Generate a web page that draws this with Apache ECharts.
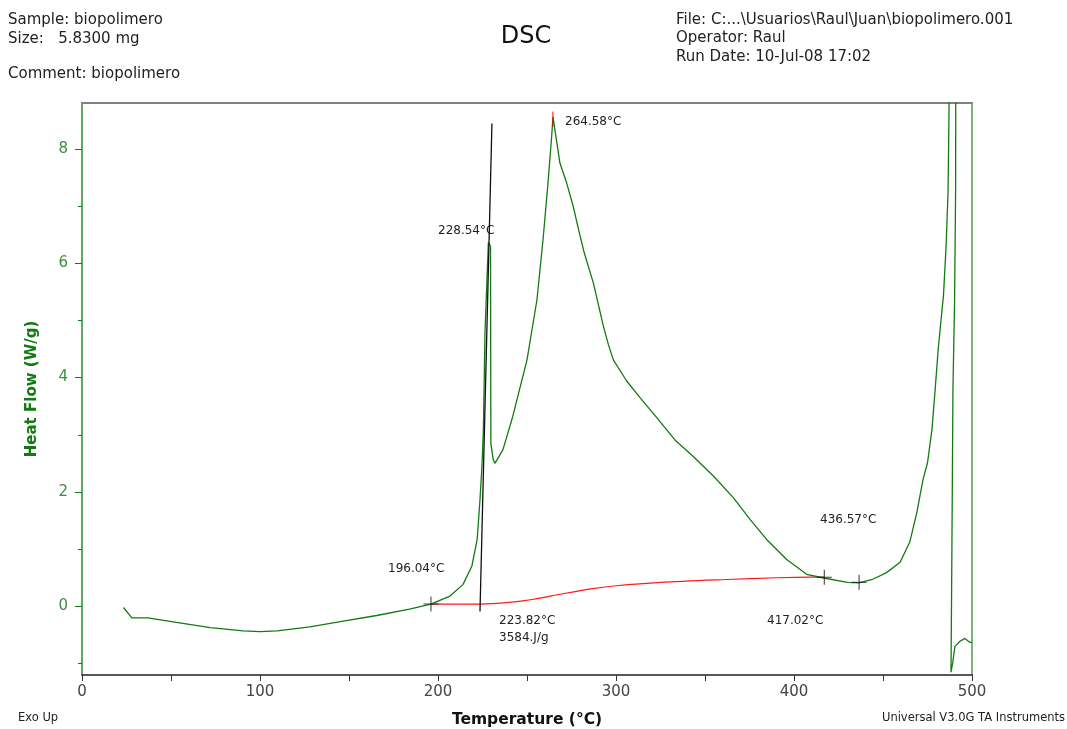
<!DOCTYPE html>
<html>
<head>
<meta charset="utf-8">
<title>DSC biopolimero</title>
<script src="https://cdn.jsdelivr.net/npm/echarts@6/dist/echarts.min.js"></script>
<style>
  html, body { margin: 0; padding: 0; background: #fff; }
  #chart { width: 1067px; height: 729px; }
</style>
</head>
<body>
<div id="chart"></div>
<script>
// curva DSC: temperatura (°C) y flujo de calor (W/g)
const temperature = [23.3, 28, 37, 53, 72, 90.6, 100, 109.6, 128, 146.8, 165.6, 184, 196.04, 206.7, 214, 219, 222,
  223.6, 224.7, 225.5, 226.4, 228.3, 229.5, 229.7, 231, 232, 236.5, 242, 250, 255.6, 259, 261.8, 264, 264.58,
  268.5, 272.3, 276, 279.4, 282, 287.3, 292.9, 295.7, 298.5, 306, 313.5, 322.9, 333.1, 343.4, 354.7, 365.9,
  375.3, 384.6, 395.9, 407.1, 416, 430,
  436.57, 444, 452, 459.6, 465, 469, 472.5, 475, 477.5, 479, 481, 484, 485.4, 486.5, 487, 487.4, 490.9,
  490.8, 490.2, 489.3, 488.7, 488.2, 489.2, 490.4, 493.3, 496, 498.9, 500];
const heatFlow = [-0.02, -0.2, -0.2, -0.28, -0.37, -0.43, -0.44, -0.43, -0.36, -0.26, -0.16, -0.05, 0.04, 0.18, 0.38, 0.70, 1.17,
  1.87, 2.45, 3.09, 4.79, 6.36, 6.3, 2.85, 2.57, 2.50, 2.74, 3.32, 4.31, 5.36, 6.41, 7.4, 8.28, 8.56,
  7.75, 7.4, 6.99, 6.53, 6.2, 5.65, 4.90, 4.58, 4.31, 3.94, 3.65, 3.30, 2.91, 2.62, 2.28, 1.90,
  1.52, 1.17, 0.82, 0.56, 0.50, 0.42,
  0.41, 0.47, 0.59, 0.77, 1.12, 1.64, 2.22, 2.51, 3.09, 3.67, 4.49, 5.45, 6.27, 7.2, 8.37, 10, 10,
  7.3, 5.3, 3.8, 0.94, -1.15, -0.98, -0.70, -0.61, -0.56, -0.63, -0.63];

// línea base integrada (rojo)
const baseTemp = [196.04, 223.82, 240, 253, 270, 287, 300, 325, 362, 390, 409, 417.02];
const baseFlow = [0.04, 0.04, 0.07, 0.12, 0.22, 0.31, 0.36, 0.42, 0.47, 0.50, 0.51, 0.51];

// tangente del onset (negro)
const tangentTemp = [223.6, 230.3];
const tangentFlow = [-0.09, 8.44];

// marca del pico
const peakTemp = [264.58, 264.58];
const peakFlow = [8.38, 8.65];

// cruces de los límites de integración
const crossTemp = [196.04, 417.02, 436.57];
const crossFlow = [0.04, 0.51, 0.42];

const xLabels = [0, 100, 200, 300, 400, 500];
const yLabels = [0, 2, 4, 6, 8];
const yMinorTicks = [-1, 1, 3, 5, 7];

const zip = (a, b) => a.map((v, i) => [v, b[i]]);

const FONT = "'DejaVu Sans', Verdana, sans-serif";
const GREEN = "#127a12";
const crossSymbol = "path://M0,6.5h14v1h-14zM6.5,0h1v14h-1z";

const chart = echarts.init(document.getElementById("chart"));

const txt = (x, y, text, opts = {}) => ({
  type: "text",
  x: x,
  y: y,
  style: {
    text: text,
    font: (opts.weight || "normal") + " " + (opts.size || 12) + "px " + FONT,
    fill: opts.color || "#222",
    align: opts.align || "left",
    verticalAlign: "middle",
  },
});

const option = {
  backgroundColor: "#fff",
  animation: false,
  grid: { left: 82, right: 95, top: 103, bottom: 54, outerBoundsMode: "none", containLabel: false },
  xAxis: [
    {
      type: "value",
      min: 0,
      max: 500,
      interval: 50,
      name: "Temperature (°C)",
      nameLocation: "middle",
      nameGap: 37,
      nameTextStyle: { fontFamily: FONT, fontSize: 15.5, fontWeight: "bold", color: "#111" },
      axisLine: { show: true, onZero: false, lineStyle: { color: "#222", width: 1.5 } },
      axisTick: { show: true, length: 6, lineStyle: { color: "#333" } },
      axisLabel: { customValues: xLabels, margin: 10, fontFamily: FONT, fontSize: 15, color: "#444" },
      splitLine: { show: false },
    },
    {
      // borde superior
      type: "value",
      position: "top",
      min: 0,
      max: 500,
      axisLine: { show: true, onZero: false, lineStyle: { color: "#808080", width: 2 } },
      axisTick: { show: false },
      axisLabel: { show: false },
      splitLine: { show: false },
    },
  ],
  yAxis: [
    {
      type: "value",
      min: -1.2,
      max: 8.8,
      name: "Heat Flow (W/g)",
      nameLocation: "middle",
      nameGap: 42,
      nameTextStyle: { fontFamily: FONT, fontSize: 15, fontWeight: "bold", color: GREEN },
      axisLine: { show: true, onZero: false, lineStyle: { color: "#2a8a2a", width: 1.5 } },
      axisTick: { show: true, customValues: yLabels, length: 7, lineStyle: { color: GREEN } },
      axisLabel: { customValues: yLabels, margin: 14, fontFamily: FONT, fontSize: 15, color: "#3d8f3d" },
      splitLine: { show: false },
    },
    {
      // ticks menores
      type: "value",
      position: "left",
      min: -1.2,
      max: 8.8,
      axisLine: { show: false },
      axisTick: { show: true, customValues: yMinorTicks, length: 4, lineStyle: { color: GREEN } },
      axisLabel: { show: false },
      splitLine: { show: false },
    },
    {
      // borde derecho
      type: "value",
      position: "right",
      min: -1.2,
      max: 8.8,
      axisLine: { show: true, onZero: false, lineStyle: { color: "#4f9f4f", width: 1.5 } },
      axisTick: { show: false },
      axisLabel: { show: false },
      splitLine: { show: false },
    },
  ],
  series: [
    {
      name: "Heat Flow",
      type: "line",
      data: zip(temperature, heatFlow),
      showSymbol: false,
      clip: true,
      lineStyle: { color: GREEN, width: 1.3 },
      z: 3,
    },
    {
      name: "Baseline",
      type: "line",
      data: zip(baseTemp, baseFlow),
      showSymbol: false,
      smooth: 0.3,
      lineStyle: { color: "#ff1a1a", width: 1.2 },
      z: 2,
    },
    {
      name: "Onset",
      type: "line",
      data: zip(tangentTemp, tangentFlow),
      showSymbol: false,
      lineStyle: { color: "#111", width: 1.3 },
      z: 4,
    },
    {
      name: "Peak",
      type: "line",
      data: zip(peakTemp, peakFlow),
      showSymbol: false,
      lineStyle: { color: "#ff0000", width: 1 },
      z: 5,
    },
    {
      name: "Limits",
      type: "scatter",
      data: zip(crossTemp, crossFlow),
      symbol: crossSymbol,
      symbolSize: 15,
      itemStyle: { color: "#111" },
      z: 6,
    },
  ],
  graphic: [
    txt(8, 20, "Sample: biopolimero", { size: 15 }),
    txt(8, 39, "Size:   5.8300 mg", { size: 15 }),
    txt(8, 74, "Comment: biopolimero", { size: 15 }),
    txt(526, 37, "DSC", { size: 24, align: "center", color: "#111" }),
    txt(676, 20, "File: C:...\\Usuarios\\Raul\\Juan\\biopolimero.001", { size: 15 }),
    txt(676, 38, "Operator: Raul", { size: 15 }),
    txt(676, 57, "Run Date: 10-Jul-08 17:02", { size: 15 }),
    txt(18, 718, "Exo Up", { size: 11.5 }),
    txt(1065, 718, "Universal V3.0G TA Instruments", { size: 11.5, align: "right" }),
    txt(388, 569, "196.04°C"),
    txt(438, 231, "228.54°C"),
    txt(565, 122, "264.58°C"),
    txt(499, 621, "223.82°C"),
    txt(499, 638, "3584.J/g"),
    txt(820, 520, "436.57°C"),
    txt(767, 621, "417.02°C"),
  ],
};

chart.setOption(option);
</script>
</body>
</html>
